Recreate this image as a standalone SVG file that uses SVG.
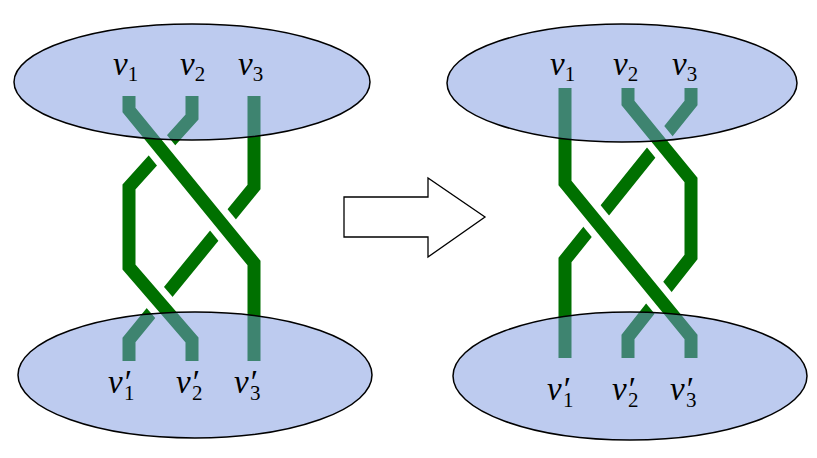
<svg xmlns="http://www.w3.org/2000/svg" width="817" height="458" viewBox="0 0 817 458">
<style>
.c{fill:none;stroke:#fff;stroke-width:27}
.g{fill:none;stroke:#007000;stroke-width:13}
.e{fill:rgb(124,152,224);fill-opacity:0.5;stroke:#000;stroke-width:1.5}
.l{font-family:"Liberation Serif",serif;font-style:italic;font-size:33px;fill:#000}
.s{font-style:normal;font-size:21px}
</style>
<rect width="817" height="458" fill="#fff"/>
<g id="connectors">
<path class="g" d="M254,96 V187 L129,340 V361"/>
<path class="c" d="M192,117 L129,187 V267 L192,340"/>
<path class="g" d="M192,96 V117 L129,187 V267 L192,340 V361"/>
<path class="c" d="M129,110 L254,263"/>
<path class="g" d="M129,96 V110 L254,263 V361"/>
<path class="g" d="M691,88 V103 L565,260 V358"/>
<path class="c" d="M628,103 L691,180 V257 L628,337"/>
<path class="g" d="M628,88 V103 L691,180 V257 L628,337 V358"/>
<path class="c" d="M565,183 L691,337"/>
<path class="g" d="M565,88 V183 L691,337 V358"/>
</g>
<g id="left-top"><ellipse class="e" cx="192" cy="82" rx="178" ry="58"/>
<text class="l" x="113" y="75">v<tspan class="s" dy="6">1</tspan></text>
<text class="l" x="180" y="75">v<tspan class="s" dy="6">2</tspan></text>
<text class="l" x="238" y="75">v<tspan class="s" dy="6">3</tspan></text></g>
<g id="left-bottom"><ellipse class="e" cx="195" cy="375" rx="177" ry="63"/>
<text class="l" x="108" y="393">v<tspan>′</tspan><tspan class="s" dx="-6" dy="7">1</tspan></text>
<text class="l" x="176" y="393">v<tspan>′</tspan><tspan class="s" dx="-6" dy="7">2</tspan></text>
<text class="l" x="234" y="393">v<tspan>′</tspan><tspan class="s" dx="-6" dy="7">3</tspan></text></g>
<g id="right-top"><ellipse class="e" cx="622" cy="83" rx="175" ry="59"/>
<text class="l" x="550" y="75">v<tspan class="s" dy="6">1</tspan></text>
<text class="l" x="613" y="75">v<tspan class="s" dy="6">2</tspan></text>
<text class="l" x="672" y="75">v<tspan class="s" dy="6">3</tspan></text></g>
<g id="right-bottom"><ellipse class="e" cx="630" cy="376" rx="177" ry="64"/>
<text class="l" x="547" y="400">v<tspan>′</tspan><tspan class="s" dx="-6" dy="7">1</tspan></text>
<text class="l" x="612" y="400">v<tspan>′</tspan><tspan class="s" dx="-6" dy="7">2</tspan></text>
<text class="l" x="670" y="400">v<tspan>′</tspan><tspan class="s" dx="-6" dy="7">3</tspan></text></g>
<g id="arrow"><path d="M344,197 H428 V178 L485,217 L428,257 V237 H344 Z" fill="#fff" stroke="#000" stroke-width="1.3"/></g>
</svg>
